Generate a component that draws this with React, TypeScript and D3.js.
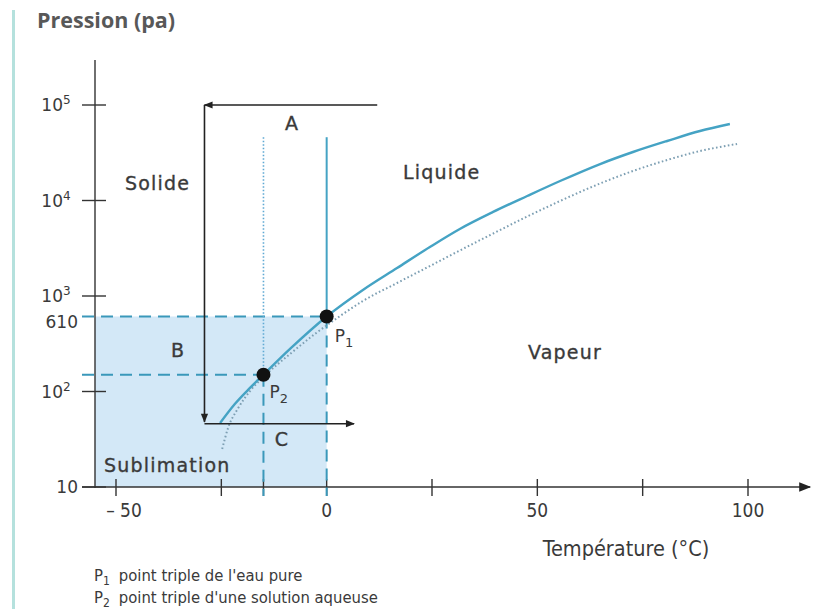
import React from "react";
import * as d3 from "d3";

// ---- data ----
const xTickValues = [-50, -25, -15, 0, 25, 50, 75, 100];
const xLabelValues = [-50, 0, 50, 100];
const yTickValues = [1e5, 1e4, 1e3, 1e2, 10];
const yTickExponents = ["5", "4", "3", "2", ""];

// pure water: sublimation + vaporisation curve (T °C, P Pa)
const pureT = [-25.3, -21.8, -18.2, -15, -8.7, 0, 8.6, 16.7, 24.5, 31.6, 39.5, 47.6, 55.4, 64.9, 72.7, 80.8, 88.6, 95.7];
const pureP = [46.8, 74, 109, 150, 279, 610, 1157, 1963, 3260, 5035, 7590, 11150, 16000, 24100, 32200, 42000, 53400, 63200];

// aqueous solution curve (dotted)
const solT = [-24.8, -23.4, -21.0, -18.2, -15.0, -8.7, -2.8, 3.2, 8.6, 16.7, 24.5, 31.6, 39.5, 47.6, 55.4, 64.9, 72.7, 80.8, 88.6, 97.4];
const solP = [25, 41.5, 67, 101, 142, 247, 400, 618, 887, 1368, 2060, 2995, 4510, 6790, 9880, 15070, 20370, 26560, 32970, 39080];

// triple points
const p1 = { T: 0, P: 610 };
const p2 = { T: -15, P: 150 };
const verticalTopP = 46000;

// A / B / C path (T, P)
const arrowA = [[12, 1e5], [-29, 1e5]];
const arrowB = [[-29, 1e5], [-29, 48]];
const arrowC = [[-29, 46], [6.5, 46]];

const legendItems = [
  { sub: "1", text: "point triple de l'eau pure" },
  { sub: "2", text: "point triple d'une solution aqueuse" },
];

export default function App() {
  const x = d3.scaleLinear().domain([-50, 100]).range([116, 748]);
  const y = d3.scaleLog().domain([10, 1e5]).range([487, 105]);
  const axisX0 = 95;
  const axisY = y(10);

  const line = d3
    .line<[number, number]>()
    .x((d) => x(d[0]))
    .y((d) => y(d[1]))
    .curve(d3.curveMonotoneX);

  const purePts = pureT.map((t, i) => [t, pureP[i]] as [number, number]);
  const solPts = solT.map((t, i) => [t, solP[i]] as [number, number]);

  const font = "'DejaVu Sans', Verdana, sans-serif";
  const narrow = "'DejaVu Sans Condensed', 'Liberation Sans Narrow', 'Liberation Sans', Arial, sans-serif";
  const textCol = "#3a3a3a";
  const blue = "#45a3c4";
  const dashCol = "#3a98ba";

  const arrowLine = (pts: number[][], key: string) => (
    <line
      key={key}
      x1={x(pts[0][0])}
      y1={y(pts[0][1])}
      x2={x(pts[1][0])}
      y2={y(pts[1][1])}
      stroke="#222"
      strokeWidth={1.6}
      markerEnd="url(#arrow)"
    />
  );

  return (
    <svg
      width={824}
      height={609}
      style={{ position: "absolute", left: 0, top: 0, background: "#fff" }}
    >
      <defs>
        <marker id="arrow" viewBox="0 0 10 10" refX="9" refY="5" markerWidth="10" markerHeight="9" markerUnits="userSpaceOnUse" orient="auto">
          <path d="M0,1 L10,5 L0,9 z" fill="#222" />
        </marker>
        <marker id="arrowBig" viewBox="0 0 10 10" refX="9" refY="5" markerWidth="15" markerHeight="12" markerUnits="userSpaceOnUse" orient="auto">
          <path d="M0,1 L10,5 L0,9 z" fill="#222" />
        </marker>
      </defs>

      {/* left accent bar */}
      <rect x={12} y={10} width={3} height={599} fill="#b5e1dd" />

      {/* title */}
      <text x={37} y={28} fontFamily="'Open Sans', sans-serif" fontWeight={700} fontSize={21.5} fill="#585858">
        Pression (pa)
      </text>

      {/* blue region */}
      <rect x={axisX0} y={y(p1.P)} width={x(p1.T) - axisX0} height={axisY - y(p1.P)} fill="#d3e8f7" />

      {/* y axis */}
      <line x1={axisX0} y1={60} x2={axisX0} y2={axisY + 1} stroke="#333" strokeWidth={1.4} />
      {yTickValues.map((v, i) => (
        <g key={"yt" + v}>
          <line x1={82} x2={106} y1={y(v)} y2={y(v)} stroke="#333" strokeWidth={1.4} />
          <text x={i === 4 ? 78 : 63} y={y(v) + 6} textAnchor="end" fontFamily={font} fontSize={17} fill={textCol}>
            10
          </text>
          {yTickExponents[i] && (
            <text x={63} y={y(v) - 1} fontFamily={font} fontSize={12} fill={textCol}>
              {yTickExponents[i]}
            </text>
          )}
        </g>
      ))}
      <text x={78} y={y(p1.P) + 11} textAnchor="end" fontFamily={font} fontSize={17} fill={textCol}>
        610
      </text>

      {/* x axis */}
      <line x1={82} y1={axisY} x2={810} y2={axisY} stroke="#333" strokeWidth={1.4} markerEnd="url(#arrowBig)" />
      {xTickValues.map((v) => (
        <line key={"xt" + v} x1={x(v)} x2={x(v)} y1={axisY - 8} y2={axisY + 9} stroke="#333" strokeWidth={1.4} />
      ))}
      {xLabelValues.map((v) => (
        <text key={"xl" + v} x={x(v) + (v < 0 ? 8 : 0)} y={axisY + 30} textAnchor="middle" fontFamily={narrow} fontSize={19} fill={textCol}>
          {v < 0 ? "\u2013 " + Math.abs(v) : String(v)}
        </text>
      ))}
      <text x={626} y={556} textAnchor="middle" fontFamily={narrow} fontSize={21.5} fill={textCol}>
        Température (°C)
      </text>

      {/* dashed guide lines */}
      <line x1={82} x2={x(p1.T)} y1={y(p1.P)} y2={y(p1.P)} stroke={dashCol} strokeWidth={2} strokeDasharray="12,7" />
      <line x1={82} x2={x(p2.T)} y1={y(p2.P)} y2={y(p2.P)} stroke={dashCol} strokeWidth={2} strokeDasharray="12,7" />
      <line x1={x(p1.T)} x2={x(p1.T)} y1={y(p1.P)} y2={axisY + 9} stroke={dashCol} strokeWidth={2} strokeDasharray="12,7" />
      <line x1={x(p2.T)} x2={x(p2.T)} y1={y(p2.P)} y2={axisY + 9} stroke={dashCol} strokeWidth={2} strokeDasharray="12,7" />

      {/* fusion lines */}
      <line x1={x(p1.T)} x2={x(p1.T)} y1={y(verticalTopP)} y2={y(p1.P)} stroke={blue} strokeWidth={2} />
      <line x1={x(p2.T)} x2={x(p2.T)} y1={y(verticalTopP)} y2={y(p2.P)} stroke="#5fa9d3" strokeWidth={1.6} strokeDasharray="1.5,2" />

      {/* curves */}
      <path d={line(solPts) || ""} fill="none" stroke="#7d9fb3" strokeWidth={2} strokeDasharray="1.6,2.4" />
      <path d={line(purePts) || ""} fill="none" stroke={blue} strokeWidth={2.4} />

      {/* arrows */}
      {arrowLine(arrowA, "a")}
      {arrowLine(arrowB, "b")}
      {arrowLine(arrowC, "c")}

      {/* triple points */}
      <circle cx={x(p1.T)} cy={y(p1.P)} r={7} fill="#111" />
      <circle cx={x(p2.T)} cy={y(p2.P)} r={7} fill="#111" />
      <text x={x(p1.T) + 8} y={y(p1.P) + 25} fontFamily={font} fontSize={17} fill={textCol}>
        P<tspan fontSize={13} dy={5}>1</tspan>
      </text>
      <text x={x(p2.T) + 6} y={y(p2.P) + 23} fontFamily={font} fontSize={17} fill={textCol}>
        P<tspan fontSize={13} dy={5}>2</tspan>
      </text>

      {/* region labels */}
      <g fontFamily={font} fontSize={19} fill={textCol} stroke={textCol} strokeWidth={0.35} letterSpacing={1.2}>
        <text x={292} y={130} textAnchor="middle">A</text>
        <text x={178} y={357} textAnchor="middle">B</text>
        <text x={282} y={446} textAnchor="middle">C</text>
        <text x={125} y={190}>Solide</text>
        <text x={403} y={179}>Liquide</text>
        <text x={528} y={359}>Vapeur</text>
        <text x={104} y={472}>Sublimation</text>
      </g>

      {/* legend */}
      {legendItems.map((it, i) => (
        <text key={"lg" + i} x={94} y={581 + i * 22} fontFamily={narrow} fontSize={16.5} fill={textCol}>
          P<tspan fontSize={12} dy={4}>{it.sub}</tspan>
          <tspan dy={-4} dx={9}>{it.text}</tspan>
        </text>
      ))}
    </svg>
  );
}
